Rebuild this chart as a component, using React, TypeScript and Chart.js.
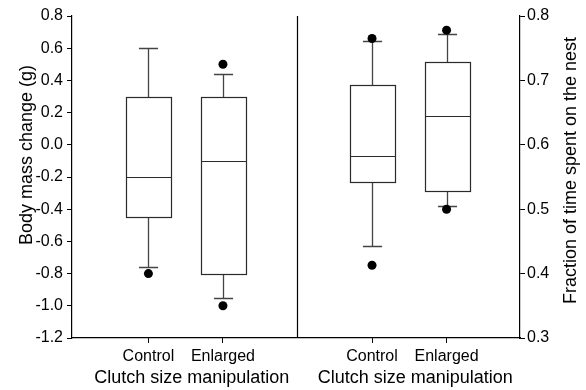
import React, { useEffect, useRef } from 'react';
import { Chart, registerables } from 'chart.js';

Chart.register(...registerables);

// ---- Data ----
const categories = ['Control', 'Enlarged'];
const leftPositions = [1, 2];
const rightPositions = [4, 5];
const dividerPosition = 3;

const massTicks = [-1.2, -1.0, -0.8, -0.6, -0.4, -0.2, 0.0, 0.2, 0.4, 0.6, 0.8];
const massLowWhisker = [-0.76, -0.95];
const massQ1 = [-0.45, -0.8];
const massMedian = [-0.2, -0.1];
const massQ3 = [0.3, 0.3];
const massHighWhisker = [0.6, 0.44];
const massOutliers = [[-0.8], [0.5, -1.0]];

const nestTicks = [0.3, 0.4, 0.5, 0.6, 0.7, 0.8];
const nestLowWhisker = [0.443, 0.505];
const nestQ1 = [0.542, 0.528];
const nestMedian = [0.583, 0.645];
const nestQ3 = [0.693, 0.729];
const nestHighWhisker = [0.761, 0.772];
const nestOutliers = [[0.765, 0.413], [0.778, 0.5]];

const xTitle = 'Clutch size manipulation';
const massTitle = 'Body mass change (g)';
const nestTitle = 'Fraction of time spent on the nest';

const BOX_HALF = 0.302;
const CAP_HALF = 0.128;
const FONT = "'Liberation Sans', Arial, Helvetica, sans-serif";

const panels = [
  { pos: leftPositions, axis: 'y', lo: massLowWhisker, q1: massQ1, med: massMedian, q3: massQ3, hi: massHighWhisker },
  { pos: rightPositions, axis: 'y2', lo: nestLowWhisker, q1: nestQ1, med: nestMedian, q3: nestQ3, hi: nestHighWhisker },
];

const outlierPoints = (pos: number[], outs: number[][]) =>
  outs.flatMap((arr, i) => arr.map((v) => ({ x: pos[i], y: v })));

const snap = (v: number) => Math.round(v) + 0.5;

const boxPlugin = {
  id: 'boxPlot',
  beforeDatasetsDraw(chart: any) {
    const ctx = chart.ctx;
    const xs = chart.scales.x;
    ctx.save();
    for (const p of panels) {
      const ys = chart.scales[p.axis];
      p.pos.forEach((pos: number, i: number) => {
        const cx = snap(xs.getPixelForValue(pos));
        const half = xs.getPixelForValue(pos + BOX_HALF) - xs.getPixelForValue(pos);
        const cap = xs.getPixelForValue(pos + CAP_HALF) - xs.getPixelForValue(pos);
        const yLo = snap(ys.getPixelForValue(p.lo[i]));
        const yQ1 = snap(ys.getPixelForValue(p.q1[i]));
        const yMed = snap(ys.getPixelForValue(p.med[i]));
        const yQ3 = snap(ys.getPixelForValue(p.q3[i]));
        const yHi = snap(ys.getPixelForValue(p.hi[i]));
        // whiskers
        ctx.strokeStyle = '#444';
        ctx.lineWidth = 1.3;
        ctx.beginPath();
        ctx.moveTo(cx, yQ3); ctx.lineTo(cx, yHi);
        ctx.moveTo(cx - cap, yHi); ctx.lineTo(cx + cap, yHi);
        ctx.moveTo(cx, yQ1); ctx.lineTo(cx, yLo);
        ctx.moveTo(cx - cap, yLo); ctx.lineTo(cx + cap, yLo);
        ctx.stroke();
        // box
        ctx.strokeStyle = '#2a2a2a';
        ctx.lineWidth = 1.2;
        const l = snap(cx - half);
        const r = snap(cx + half);
        ctx.fillStyle = '#fff';
        ctx.fillRect(l, yQ3, r - l, yQ1 - yQ3);
        ctx.strokeRect(l, yQ3, r - l, yQ1 - yQ3);
        ctx.beginPath();
        ctx.moveTo(l, yMed); ctx.lineTo(r, yMed);
        ctx.stroke();
      });
    }
    // panel divider
    const dx = snap(xs.getPixelForValue(dividerPosition));
    ctx.strokeStyle = '#000';
    ctx.lineWidth = 1.2;
    ctx.beginPath();
    ctx.moveTo(dx, chart.chartArea.top);
    ctx.lineTo(dx, chart.chartArea.bottom);
    ctx.stroke();
    ctx.restore();
  },
  afterDraw(chart: any) {
    const ctx = chart.ctx;
    const xs = chart.scales.x;
    ctx.save();
    ctx.fillStyle = '#000';
    ctx.font = `18px ${FONT}`;
    ctx.textAlign = 'center';
    ctx.textBaseline = 'alphabetic';
    const leftMid = (xs.getPixelForValue(leftPositions[0]) + xs.getPixelForValue(leftPositions[1])) / 2 + 6;
    const rightMid = (xs.getPixelForValue(rightPositions[0]) + xs.getPixelForValue(rightPositions[1])) / 2 + 6;
    ctx.fillText(xTitle, leftMid, 382.5);
    ctx.fillText(xTitle, rightMid, 382.5);
    // left y title
    ctx.save();
    ctx.translate(31.5, 155);
    ctx.rotate(-Math.PI / 2);
    ctx.fillText(massTitle, 0, 0);
    ctx.restore();
    // right y title
    ctx.save();
    ctx.translate(575.5, 170.5);
    ctx.rotate(-Math.PI / 2);
    ctx.fillText(nestTitle, 0, 0);
    ctx.restore();
    ctx.restore();
  },
};

export default function App() {
  const ref = useRef<HTMLCanvasElement | null>(null);

  useEffect(() => {
    if (!ref.current) return;
    const tickFont = { family: FONT, size: 16 };
    const chart = new Chart(ref.current, {
      type: 'scatter',
      data: {
        datasets: [
          {
            data: outlierPoints(leftPositions, massOutliers),
            xAxisID: 'x',
            yAxisID: 'y',
            pointRadius: 4.5,
            pointHoverRadius: 4.5,
            backgroundColor: '#000',
            borderColor: '#000',
            borderWidth: 0,
          },
          {
            data: outlierPoints(rightPositions, nestOutliers),
            xAxisID: 'x',
            yAxisID: 'y2',
            pointRadius: 4.5,
            pointHoverRadius: 4.5,
            backgroundColor: '#000',
            borderColor: '#000',
            borderWidth: 0,
          },
        ],
      },
      options: {
        responsive: false,
        animation: false,
        devicePixelRatio: 1,
        layout: { padding: { top: 16, left: 0, right: 0, bottom: 0 } },
        plugins: { legend: { display: false }, tooltip: { enabled: false } },
        scales: {
          x: {
            type: 'linear',
            min: -0.025,
            max: 5.985,
            bounds: 'data',
            grid: { display: true, drawOnChartArea: false, drawTicks: true, tickLength: 5, color: '#000', lineWidth: 1 },
            border: { display: true, color: '#000', width: 1.2 },
            ticks: {
              font: tickFont,
              color: '#000',
              padding: 4,
              autoSkip: false,
              maxRotation: 0,
              callback: (v: any) => {
                const li = leftPositions.indexOf(Number(v));
                if (li >= 0) return categories[li];
                const ri = rightPositions.indexOf(Number(v));
                if (ri >= 0) return categories[ri];
                return '';
              },
            },
            afterBuildTicks: (s: any) => {
              s.ticks = [...leftPositions, ...rightPositions].map((v) => ({ value: v }));
            },
            afterFit: (s: any) => { s.height = 52; },
          },
          y: {
            type: 'linear',
            position: 'left',
            min: -1.2,
            max: 0.8,
            grid: { display: true, drawOnChartArea: false, drawTicks: true, tickLength: 5, color: '#000', lineWidth: 1 },
            border: { display: true, color: '#000', width: 1.2 },
            ticks: {
              font: tickFont,
              color: '#000',
              padding: 4,
              callback: (v: any) => (Math.abs(Number(v)) < 1e-9 ? '0.0' : Number(v).toFixed(1)),
            },
            afterBuildTicks: (s: any) => { s.ticks = massTicks.map((v) => ({ value: v })); },
            afterFit: (s: any) => { s.width = 72; },
          },
          y2: {
            type: 'linear',
            position: 'right',
            min: 0.3,
            max: 0.8,
            grid: { display: true, drawOnChartArea: false, drawTicks: true, tickLength: 5, color: '#000', lineWidth: 1 },
            border: { display: true, color: '#000', width: 1.2 },
            ticks: {
              font: tickFont,
              color: '#000',
              padding: 2,
              callback: (v: any) => Number(v).toFixed(1),
            },
            afterBuildTicks: (s: any) => { s.ticks = nestTicks.map((v) => ({ value: v })); },
            afterFit: (s: any) => { s.width = 66; },
          },
        },
      },
      plugins: [boxPlugin],
    } as any);
    return () => chart.destroy();
  }, []);

  return (
    <div style={{ position: 'fixed', left: 0, top: 0, width: 586, height: 390, background: '#fff' }}>
      <canvas ref={ref} width={586} height={390} style={{ display: 'block' }} />
    </div>
  );
}
